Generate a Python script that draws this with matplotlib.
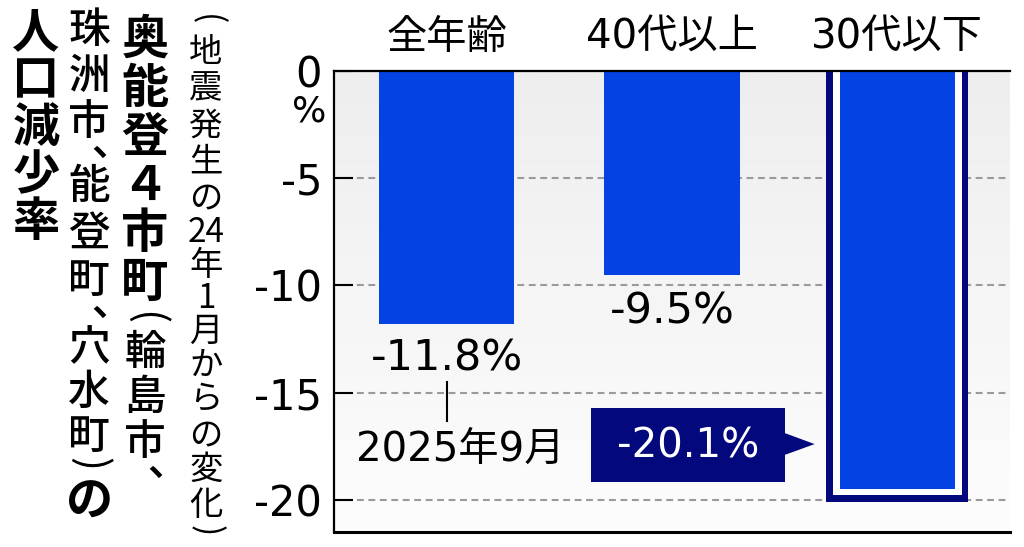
import numpy as np
import matplotlib
matplotlib.use("Agg")
import matplotlib.pyplot as plt
from matplotlib.colors import LinearSegmentedColormap
from matplotlib.patches import Rectangle, Polygon, PathPatch
from matplotlib.textpath import TextPath
from matplotlib.font_manager import FontProperties
from matplotlib.transforms import Affine2D

plt.rcParams['font.family'] = ['Noto Sans CJK JP', 'DejaVu Sans']
plt.rcParams['axes.unicode_minus'] = False
NUM = ['DejaVu Sans', 'Noto Sans CJK JP']

# ---- data ----
categories = ["全年齢", "40代以上", "30代以下"]
values = [-11.8, -9.5, -20.1]
value_labels = ["-11.8%", "-9.5%", "-20.1%"]
yticks = [0, -5, -10, -15, -20]
ytick_labels = ["0", "-5", "-10", "-15", "-20"]
date_label = "2025年9月"

BLUE = "#0442e4"
NAVY = "#03097c"

W, H = 1024, 547
fig = plt.figure(figsize=(W / 100, H / 100), dpi=100)
ax = fig.add_axes([334 / W, (H - 532) / H, 676 / W, 461 / H])

def px(x, y):
    return x / W, 1 - y / H

XL, YL = (-0.5, 2.5), (-21.5, 0)

# gradient background
cmap = LinearSegmentedColormap.from_list("bg", ["#eeeeee", "#fdfdfd"])
ax.imshow(np.linspace(0, 1, 256).reshape(-1, 1), extent=[XL[0], XL[1], YL[0], YL[1]],
          aspect="auto", cmap=cmap, zorder=0)
ax.set_xlim(*XL)
ax.set_ylim(*YL)

# grid
ax.set_axisbelow(True)
ax.yaxis.grid(True, color="#9a9a9a", linewidth=1.5, linestyle=(0, (3.3, 2.2)))
ax.xaxis.grid(False)

x = np.arange(len(categories))
px_per_x = 676 / (XL[1] - XL[0])
px_per_y = 461 / (YL[1] - YL[0])

# bars 1 and 2
ax.bar(x[:2], values[:2], width=0.6, color=BLUE, zorder=2)
# highlighted bar 3: navy frame, white gap, blue fill
w3 = 0.63
frame_px = 6.7
ax.bar(x[2], values[2], width=w3, color=NAVY, zorder=2)
ax.bar(x[2], values[2] + frame_px / px_per_y, width=w3 - 2 * frame_px / px_per_x,
       color="white", zorder=3)
ax.bar(x[2], values[2] + 2 * frame_px / px_per_y, width=w3 - 4 * frame_px / px_per_x,
       color=BLUE, zorder=4)

# spines
for s in ["left", "top"]:
    ax.spines[s].set_linewidth(1.6)
ax.spines["bottom"].set_linewidth(2.2)
ax.spines["right"].set_visible(False)
for s in ax.spines.values():
    s.set_zorder(6)

ax.set_xticks([])
ax.set_yticks(yticks)
ax.set_yticklabels(ytick_labels, fontfamily=NUM)
ax.tick_params(axis="y", direction="in", length=13.7, width=1.5, pad=8.5,
               labelsize=30, colors="black")

fig.text(*px(309, 112), "%", fontsize=26, ha="center", va="center", family=NUM)

# category labels above
for xi, c in zip(x, categories):
    ax.text(xi, 1.072, c, transform=ax.get_xaxis_transform(), ha="center", va="center",
            fontsize=29, family=NUM)

# value labels
ax.annotate(value_labels[0], (x[0], values[0]), xytext=(0, -34), textcoords="offset pixels",
            ha="center", va="center", fontsize=31, zorder=7, family=NUM)
ax.annotate(value_labels[1], (x[1], values[1]), xytext=(0, -37), textcoords="offset pixels",
            ha="center", va="center", fontsize=31, zorder=7, family=NUM)

# leader line and date label
ax.plot([x[0], x[0]], [-14.5, -16.3], color="black", lw=1.5, zorder=7)
ax.text(x[0] + 0.06, -17.68, date_label, ha="center", va="center", fontsize=29, zorder=7,
        family=NUM)

# highlighted callout for bar 3
ax.add_patch(Rectangle((0.639, -19.17), 1.5 - 0.639, 19.17 - 15.72, facecolor=NAVY,
                       edgecolor="none", zorder=7))
ax.add_patch(Polygon([(1.499, -16.88), (1.499, -17.91), (1.633, -17.40)], closed=True,
                     facecolor=NAVY, edgecolor="none", zorder=7))
ax.text(1.07, -17.5, value_labels[2], ha="center", va="center", fontsize=29,
        color="white", zorder=8, family=NUM)

# ---- vertical title ----
comma_fp = FontProperties(family="Noto Sans CJK JP", weight="medium")

def comma(xc, yc, size_px=42):
    """Draw the ideographic comma with its ink centred on pixel (xc, yc)."""
    tp = TextPath((0, 0), "、", size=size_px, prop=comma_fp)
    ext = tp.get_extents()
    cx, cy = (ext.x0 + ext.x1) / 2, (ext.y0 + ext.y1) / 2
    tr = (Affine2D().translate(-cx, -cy).translate(xc, H - yc).scale(1 / W, 1 / H)
          + fig.transFigure)
    fig.patches.append(PathPatch(tp, transform=tr, facecolor="black", edgecolor="none"))

def vcol(chars, xc, ys, size, weight="normal"):
    for ch, y in zip(chars, ys):
        if ch in ("(", ")"):
            fig.text(*px(xc, y), ch, fontsize=size, ha="center", va="center",
                     rotation=-90, fontweight="normal")
        elif ch == "、":
            comma(xc + 11, y)
        else:
            fig.text(*px(xc, y), ch, fontsize=size, ha="center", va="center",
                     fontweight=weight)

# column: 人口減少率
vcol(list("人口減少率"), 36, [33, 80, 128, 175, 222], 34, "bold")
# column: 奥能登４市町(輪島市、
vcol(list("奥能登４市町"), 145, [40, 89, 138, 186, 234, 283], 34, "bold")
vcol(["(", "輪", "島", "市", "、"], 145, [318, 353, 397, 442, 472], 30, "medium")
# column: 珠洲市、能登町、穴水町)の
vcol(["珠", "洲", "市", "、", "能", "登", "町", "、", "穴", "水", "町", ")"], 89,
     [31, 76, 122, 152, 187, 233, 281, 312, 348, 392, 436, 464], 30, "medium")
vcol(["の"], 90, [502], 34, "bold")
# subtitle column
vcol(["(", "地", "震", "発", "生", "の", "24", "年", "1", "月", "か", "ら", "の", "変", "化", ")"],
     206, [20, 52, 89, 126, 162, 198, 232, 266, 298, 331, 365, 400, 435, 469, 506, 531], 24)

fig.savefig("out.png", dpi=100)
